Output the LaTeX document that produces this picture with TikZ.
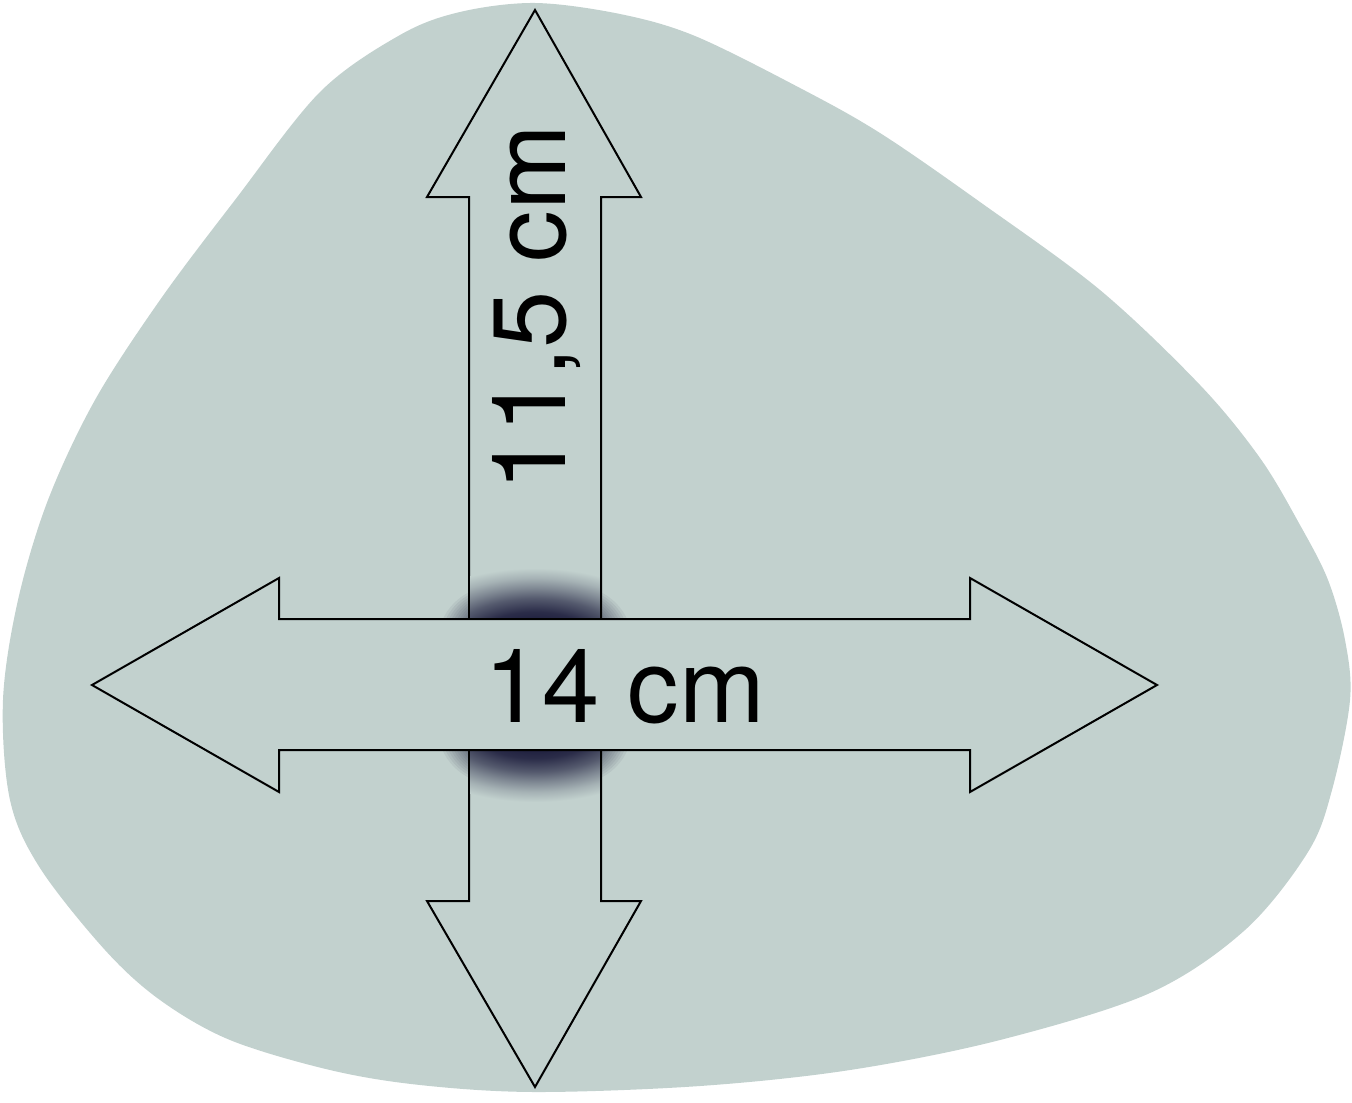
\documentclass[tikz,border=0pt]{standalone}
\usepackage{fontspec}
\setmainfont{TeX Gyre Heros}
\definecolor{blobfill}{RGB}{194,209,206}
\definecolor{shadownavy}{RGB}{26,26,58}
\pgfdeclareradialshading{softshadow}{\pgfpoint{0bp}{0bp}}{%
  color(0bp)=(shadownavy);
  color(8bp)=(shadownavy);
  color(12bp)=(shadownavy!90!blobfill);
  color(16bp)=(shadownavy!65!blobfill);
  color(19bp)=(shadownavy!40!blobfill);
  color(22bp)=(shadownavy!17!blobfill);
  color(25bp)=(blobfill);
  color(50bp)=(blobfill)}
\begin{document}
\begin{tikzpicture}[x=0.5pt,y=-0.5pt,
  arrowshape/.style={fill=blobfill,draw=black,line width=1pt,line join=miter},
  dimlabel/.style={font=\fontsize{51.5}{60}\selectfont,inner sep=0pt,text=black}]
\useasboundingbox (0,0) rectangle (1352,1102);
% blob
\fill[blobfill] plot[smooth cycle,tension=0.55] coordinates {
 (535,3) (620,14) (695,36) (800,88) (880,133) (980,202) (1100,290) (1200,385)
 (1260,458) (1300,525) (1328,580) (1345,640) (1350,700) (1332,790) (1308,852)
 (1245,930) (1150,993) (1000,1040) (850,1070) (700,1086) (535,1092) (420,1085)
 (330,1070) (230,1040) (160,1000) (105,950) (40,868) (10,800) (3,700) (18,600)
 (48,500) (95,400) (160,300) (235,200) (320,92) (400,35) (460,12)};
% outer soft shadow (seen beside the shaft)
\foreach \k in {0,1,...,30}{
  \pgfmathsetmacro\rr{55*(\k/30)^1.8}
  \fill[shadownavy,opacity=0.06,rounded corners=\rr*0.5pt+0.5pt]
    (490-\rr*0.95,625-\rr*0.7) rectangle (580+\rr*0.95,745+\rr*0.7);
}
% vertical arrow
\draw[arrowshape] (535,10) -- (641,197) -- (601,197) -- (601,901) -- (641,901)
  -- (535,1087) -- (427,901) -- (469,901) -- (469,197) -- (427,197) -- cycle;
% inner shadow inside the shaft
\begin{scope}
  \clip (470.5,540) rectangle (599.5,620);
  \shade[shading=softshadow] (535,652) ellipse [x radius=75pt, y radius=42pt];
\end{scope}
\begin{scope}
  \clip (470.5,749) rectangle (599.5,830);
  \shade[shading=softshadow] (535,718) ellipse [x radius=75pt, y radius=42pt];
\end{scope}
% horizontal arrow
\draw[arrowshape] (92,685) -- (279,578) -- (279,619) -- (970,619) -- (970,578)
  -- (1157,685) -- (970,792) -- (970,750) -- (279,750) -- (279,792) -- cycle;
\node[dimlabel,anchor=base] (hlabel) at (625,722) {14 cm};
\node[dimlabel,anchor=base,rotate=90] (vlabel) at (565,308) {11,5 cm};
\end{tikzpicture}
\end{document}
